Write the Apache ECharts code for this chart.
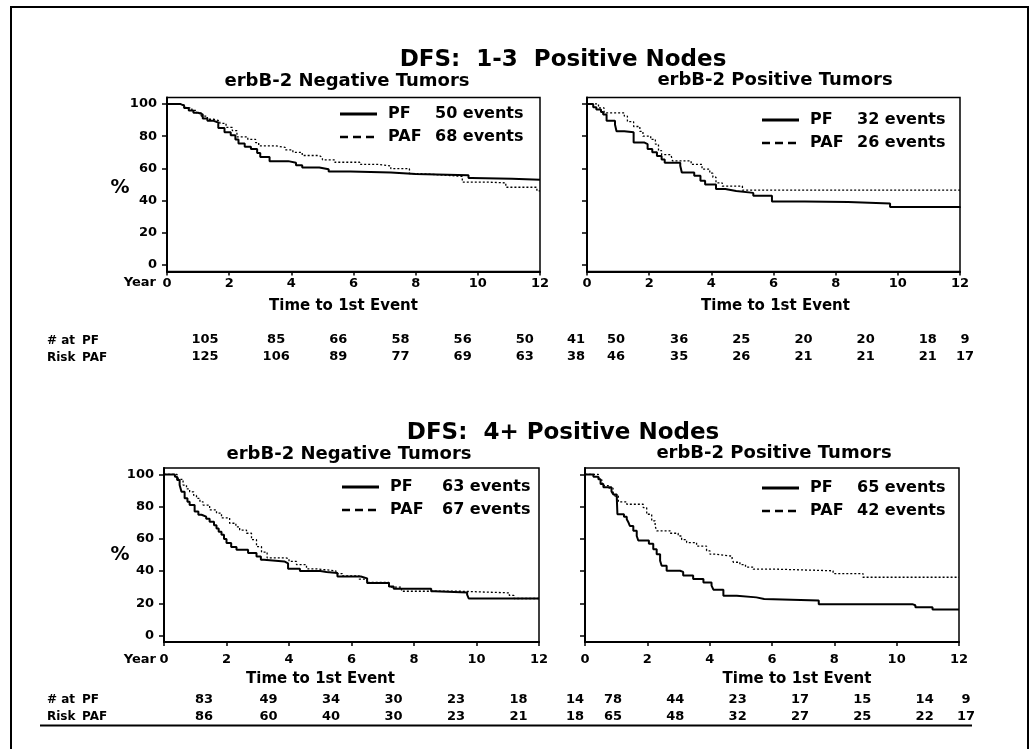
<!DOCTYPE html>
<html>
<head>
<meta charset="utf-8">
<script src="https://cdn.jsdelivr.net/npm/echarts@6/dist/echarts.min.js"></script>
<style>
html, body { margin: 0; padding: 0; background: #fff; }
#chart { width: 1036px; height: 749px; }
</style>
</head>
<body>
<div id="chart"></div>
<script>
// tick labels
var yearTicks = [0, 2, 4, 6, 8, 10, 12]
var pctTicks = [0, 20, 40, 60, 80, 100]

// DFS 1-3 positive nodes, erbB-2 negative  [year, % event free]
var pf13Neg = [[0,100],[0.42,99],[0.55,97.5],[0.7,96],[0.85,94.5],[1.0,93.5],[1.15,91],[1.3,89.5],[1.5,88.5],[1.65,85],[1.85,82.5],[2.05,80.5],[2.2,78],[2.3,75.5],[2.5,73.5],[2.7,72],[2.9,69.5],[3.0,67],[3.3,64.5],[3.9,63.5],[4.15,62],[4.35,60.5],[4.9,59.5],[5.2,58],[5.9,57.5],[7.2,56.5],[8.0,55.8],[9.7,54],[9.8,53.5],[11.1,53],[12,52.8]]
var paf13Neg = [[0,100],[0.45,99],[0.6,97.5],[0.8,96],[0.95,94.5],[1.1,92.5],[1.3,90.5],[1.5,89.5],[1.7,88],[1.9,85.5],[2.1,83.5],[2.25,79.5],[2.6,78],[2.85,76],[2.95,74],[3.5,73],[3.8,71.5],[4.05,70],[4.35,68],[4.9,66.8],[5.0,65.3],[5.4,63.8],[6.2,62.5],[6.8,61.5],[7.2,59.8],[7.8,56.8],[8.1,55.6],[9.1,55],[9.5,51.5],[10.3,51],[10.9,48.3],[11.9,46],[12,46]]

// DFS 1-3 positive nodes, erbB-2 positive
var pf13Pos = [[0,100],[0.2,98],[0.3,96.5],[0.45,95],[0.52,93.4],[0.63,89.5],[0.9,87.2],[0.95,83.1],[1.2,82.5],[1.5,76],[1.85,75],[1.95,72],[2.1,70],[2.25,67.7],[2.4,65.5],[2.5,63.5],[3.0,61.6],[3.05,57.5],[3.45,55.4],[3.65,52.3],[3.8,50],[4.15,47.2],[4.45,46],[4.8,44.8],[5.35,43],[5.95,39.5],[7.0,39.2],[8.4,38.2],[9.75,36],[12,35.5]]
var paf13Pos = [[0,100],[0.37,97.5],[0.55,94.5],[1.2,92.4],[1.3,89],[1.5,86],[1.7,83],[1.8,80],[2.05,78],[2.2,75],[2.3,71],[2.4,68.5],[2.7,67.7],[2.75,64.7],[3.35,62.5],[3.7,59.5],[3.95,57],[4.05,54.5],[4.15,51],[4.35,49],[5.0,46.5],[12,46.3]]

// DFS 4+ positive nodes, erbB-2 negative
var pf4Neg = [[0,100],[0.35,98.5],[0.42,96.5],[0.5,93.4],[0.56,89.2],[0.66,85.2],[0.75,83],[0.82,81],[0.98,77],[1.1,75],[1.2,73.8],[1.35,72.5],[1.46,70.7],[1.6,68.5],[1.68,66.5],[1.75,64.5],[1.84,62.5],[1.92,60],[2.0,57.5],[2.15,55],[2.32,53.2],[2.69,51.2],[2.96,49],[3.1,47],[3.2,46],[3.85,44.8],[3.97,41.5],[4.35,40],[5.0,39.5],[5.2,38.8],[5.55,36.7],[6.3,35.5],[6.5,32.6],[7.2,30.5],[7.35,29],[8.55,27.5],[8.65,26.8],[9.7,25.4],[9.75,23],[12,22.8]]
var paf4Neg = [[0,100],[0.42,98.5],[0.48,97],[0.61,93.4],[0.72,91],[0.82,89.2],[0.95,87],[1.04,85.2],[1.15,83],[1.25,81],[1.46,78],[1.68,76],[1.84,73],[2.1,69.7],[2.3,67.5],[2.42,65.5],[2.64,63.5],[2.8,59.5],[2.96,55.2],[3.12,51.8],[3.3,48.2],[3.9,47.8],[4.0,46],[4.24,44],[4.56,41.4],[4.88,40.2],[5.5,38.5],[5.7,37],[6.25,35],[6.5,33],[7.2,30],[7.6,27.5],[9.5,26.5],[11.05,24.9],[11.2,23],[12,23]]

// DFS 4+ positive nodes, erbB-2 positive
var pf4Pos = [[0,100],[0.27,98.5],[0.43,97],[0.5,94],[0.59,92],[0.85,89.5],[0.91,87.6],[1.02,85.6],[1.04,75.3],[1.25,73.8],[1.34,72.2],[1.4,70],[1.44,68],[1.55,65],[1.66,61.8],[1.71,59],[2.05,57],[2.19,53.6],[2.3,50.5],[2.41,46.4],[2.46,43.3],[2.62,40.2],[3.05,39.5],[3.15,37.2],[3.47,35.1],[3.8,33],[4.06,31],[4.12,28.5],[4.44,24.7],[4.87,23.7],[5.5,22.7],[5.75,21.8],[7.5,19.5],[10.5,18.8],[10.6,17.5],[11.15,16.1],[12,16]]
var paf4Pos = [[0,100],[0.43,98.5],[0.48,96.5],[0.55,93],[0.75,91.5],[0.9,89],[0.96,86.6],[1.07,83],[1.34,81.5],[1.87,79.4],[1.98,75.3],[2.14,71.2],[2.25,68],[2.3,65],[2.73,63.5],[2.99,61.8],[3.1,59.5],[3.26,57.7],[3.58,55.5],[3.9,52.6],[4.01,50.5],[4.2,49.3],[4.72,47.5],[4.76,45.5],[4.97,44],[5.15,42.5],[5.4,41.2],[6.15,40.2],[7.96,38.5],[8.92,36.2],[12,36]]

// number at risk at years 0,2,...,12
var riskPf13Neg = [105, 85, 66, 58, 56, 50, 41]
var riskPaf13Neg = [125, 106, 89, 77, 69, 63, 38]
var riskPf13Pos = [50, 36, 25, 20, 20, 18, 9]
var riskPaf13Pos = [46, 35, 26, 21, 21, 21, 17]
var riskPf4Neg = [83, 49, 34, 30, 23, 18, 14]
var riskPaf4Neg = [86, 60, 40, 30, 23, 21, 18]
var riskPf4Pos = [78, 44, 23, 17, 15, 14, 9]
var riskPaf4Pos = [65, 48, 32, 27, 25, 22, 17]

// events per arm [PF, PAF]
var events13Neg = [50, 68]
var events13Pos = [32, 26]
var events4Neg = [63, 67]
var events4Pos = [65, 42]

var FONT = 'DejaVu Sans'

var panels = [
  { grid: { left: 167, top: 97.5, width: 373, height: 174 }, pf: pf13Neg, paf: paf13Neg, rPf: riskPf13Neg, rPaf: riskPaf13Neg, ev: events13Neg,
    yLabels: true, leg: [340, 114, 95], xMargin: 6, nameGap: 27, namePad: [0, 20, 0, 0], riskOff: [62, 79], shift: [38, 47, 36] },
  { grid: { left: 587, top: 97.5, width: 373, height: 174 }, pf: pf13Pos, paf: paf13Pos, rPf: riskPf13Pos, rPaf: riskPaf13Pos, ev: events13Pos,
    yLabels: false, leg: [762, 120, 95], xMargin: 6, nameGap: 27, namePad: [0, 0, 0, 4], riskOff: [62, 79], shift: [29, 30, 5] },
  { grid: { left: 164, top: 468, width: 375, height: 174 }, pf: pf4Neg, paf: paf4Neg, rPf: riskPf4Neg, rPaf: riskPaf4Neg, ev: events4Neg,
    yLabels: true, leg: [342, 487, 100], xMargin: 11, nameGap: 30, namePad: [0, 62, 0, 0], riskOff: [51, 68], shift: [40, 42, 36] },
  { grid: { left: 585, top: 468, width: 374, height: 174 }, pf: pf4Pos, paf: paf4Pos, rPf: riskPf4Pos, rPaf: riskPaf4Pos, ev: events4Pos,
    yLabels: false, leg: [762, 488, 95], xMargin: 11, nameGap: 30, namePad: [0, 0, 0, 50], riskOff: [51, 68], shift: [28, 28, 7] }
]

var boldText = { color: '#000', fontFamily: FONT, fontWeight: 'bold' }

function txt(x, y, s, size, align) {
  return {
    type: 'text', x: x, y: y, silent: true,
    style: { text: s, fill: '#000', font: 'bold ' + size + 'px "' + FONT + '"', align: align || 'center', verticalAlign: 'middle',
      textAlign: align || 'center', textVerticalAlign: 'middle' }
  }
}
function seg(x1, x2, y, w, dash) {
  return { type: 'line', silent: true, shape: { x1: x1, y1: y, x2: x2, y2: y }, style: { stroke: '#000', lineWidth: w, lineDash: dash || null } }
}

var grids = [], xAxes = [], yAxes = [], series = []
var graphics = [
  { type: 'rect', silent: true, shape: { x: 11, y: 7, width: 1017, height: 770 }, style: { fill: 'none', stroke: '#000', lineWidth: 2 } },
  txt(563, 60, 'DFS:  1-3  Positive Nodes', 23),
  txt(347, 81, 'erbB-2 Negative Tumors', 18),
  txt(775, 80, 'erbB-2 Positive Tumors', 18),
  txt(563, 433, 'DFS:  4+ Positive Nodes', 23),
  txt(349, 454, 'erbB-2 Negative Tumors', 18),
  txt(774, 453, 'erbB-2 Positive Tumors', 18),
  txt(120, 188, '%', 19), txt(120, 555, '%', 19),
  txt(156, 283, 'Year', 13, 'right'), txt(156, 660, 'Year', 13, 'right'),
  txt(47, 341, '# at', 12, 'left'), txt(82, 341, 'PF', 12, 'left'),
  txt(47, 358, 'Risk', 12, 'left'), txt(82, 358, 'PAF', 12, 'left'),
  txt(47, 700, '# at', 12, 'left'), txt(82, 700, 'PF', 12, 'left'),
  txt(47, 717, 'Risk', 12, 'left'), txt(82, 717, 'PAF', 12, 'left'),
  seg(40, 972, 725.5, 2)
]

panels.forEach(function (p, i) {
  grids.push(Object.assign({ show: true, borderColor: '#000', borderWidth: 1.5, backgroundColor: 'transparent' }, p.grid))

  xAxes.push({
    gridIndex: i, type: 'value', min: 0, max: 12, interval: 2,
    axisLine: { show: true, onZero: false, lineStyle: { color: '#000', width: 2 } },
    axisTick: { show: true, length: 4, lineStyle: { color: '#000', width: 1.5 } },
    axisLabel: Object.assign({ fontSize: 13, margin: p.xMargin }, boldText),
    splitLine: { show: false },
    name: 'Time to 1st Event', nameLocation: 'middle', nameGap: p.nameGap,
    nameTextStyle: Object.assign({ fontSize: 15, padding: p.namePad }, boldText)
  })
  // number at risk rows hang off the same year scale
  ;[[p.rPf, p.riskOff[0]], [p.rPaf, p.riskOff[1]]].forEach(function (r) {
    var rs = Object.assign({ fontSize: 13 }, boldText)
    xAxes.push({
      gridIndex: i, type: 'value', min: 0, max: 12, interval: 2, position: 'bottom', offset: r[1],
      axisLine: { show: false }, axisTick: { show: false }, splitLine: { show: false },
      axisLabel: {
        margin: 0,
        formatter: function (v) {
          var k = Math.round(v / 2)
          var c = k === 0 ? 'f' : (k === yearTicks.length - 1 ? 'l' : 'm')
          return '{' + c + '|' + r[0][k] + '}'
        },
        rich: {
          f: Object.assign({ padding: [0, 0, 0, 2 * p.shift[0]] }, rs),
          m: Object.assign({ padding: [0, 0, 0, 2 * p.shift[1]] }, rs),
          l: Object.assign({ padding: [0, 0, 0, 2 * p.shift[2]] }, rs)
        }
      }
    })
  })

  yAxes.push({
    gridIndex: i, type: 'value', min: -4, max: 104,
    axisLine: { show: true, lineStyle: { color: '#000', width: 2 } },
    axisTick: { show: true, length: 5, customValues: pctTicks, lineStyle: { color: '#000', width: 1.5 } },
    axisLabel: Object.assign({ show: p.yLabels, fontSize: 13, margin: 10, customValues: pctTicks }, boldText),
    splitLine: { show: false }
  })

  series.push({
    name: 'PF', type: 'line', step: 'end', xAxisIndex: i * 3, yAxisIndex: i, data: p.pf,
    showSymbol: false, symbol: 'none', lineStyle: { color: '#000', width: 2 }
  })
  series.push({
    name: 'PAF', type: 'line', step: 'end', xAxisIndex: i * 3, yAxisIndex: i, data: p.paf,
    showSymbol: false, symbol: 'none', lineStyle: { color: '#000', width: 1.3, type: [2, 2] }
  })

  // legend drawn inside the plot box
  var lx = p.leg[0], ly = p.leg[1]
  graphics.push(seg(lx, lx + 37, ly, 3))
  graphics.push(seg(lx, lx + 37, ly + 23, 2.5, [8, 5]))
  graphics.push(txt(lx + 48, ly, 'PF', 16, 'left'))
  graphics.push(txt(lx + 48, ly + 23, 'PAF', 16, 'left'))
  graphics.push(txt(lx + p.leg[2], ly, p.ev[0] + ' events', 16, 'left'))
  graphics.push(txt(lx + p.leg[2], ly + 23, p.ev[1] + ' events', 16, 'left'))
})

var myChart = echarts.init(document.getElementById('chart'))
myChart.setOption({
  animation: false,
  backgroundColor: '#fff',
  grid: grids,
  xAxis: xAxes,
  yAxis: yAxes,
  series: series,
  graphic: graphics
})
</script>
</body>
</html>
